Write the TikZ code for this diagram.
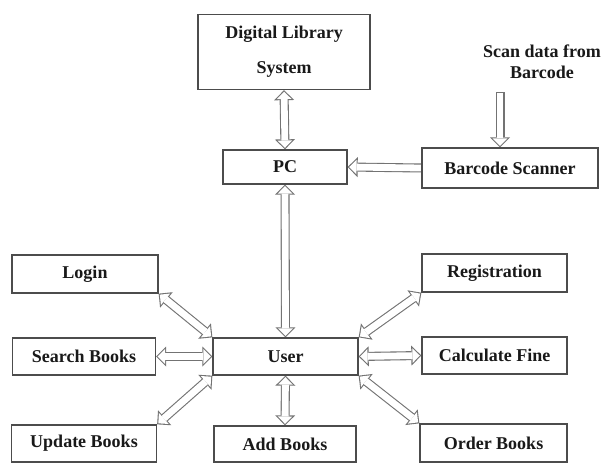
\documentclass[tikz,border=0pt]{standalone}
\usepackage{fontspec}
\setmainfont{Liberation Serif}
\usetikzlibrary{arrows.meta,backgrounds}
\begin{document}
\begin{tikzpicture}[x=1pt,y=-1pt,
  lbl/.style={font=\fontsize{18}{21}\selectfont\bfseries, text=black!90},
  box/.style={lbl, draw=black!70, line width=1.3pt, fill=white, inner sep=0pt},
  outerA/.tip={Triangle[length=10pt,width=20pt,line width=0pt]},
  innerA/.tip={Triangle[length=7.34pt,width=14.7pt,line width=0pt]},
  dbl/.style={draw=black!55, line width=9pt, {outerA}-{outerA},
    postaction={draw=white, line width=6.8pt, shorten <=1.56pt, shorten >=1.56pt, {innerA}-{innerA}}},
  sgl/.style={draw=black!55, line width=9pt, -{outerA},
    postaction={draw=white, line width=6.8pt, shorten >=1.56pt, -{innerA}}},
  sglcap/.style={draw=black!55, line width=9pt, -{outerA},
    postaction={draw=white, line width=6.8pt, shorten <=1.1pt, shorten >=1.56pt, -{innerA}}}
]
\useasboundingbox (0,0) rectangle (602,463);

\node[box, minimum width=172pt, minimum height=75pt, align=center] (dls) at (284,52) {Digital Library\\[14pt]System};
\node[box, minimum width=124pt, minimum height=34pt] (pc) at (285,167) {PC};
\node[box, minimum width=176pt, minimum height=40pt] (bar) at (510,168) {Barcode Scanner};
\node[lbl, align=center] (scan) at (542,62) {Scan data from\\Barcode};
\coordinate (scantail) at (500,92);

\node[box, minimum width=146pt, minimum height=38pt] (login) at (85,274) {Login};
\node[box, minimum width=143pt, minimum height=37pt] (search) at (84,356.5) {Search Books};
\node[box, minimum width=145pt, minimum height=37pt] (update) at (84,443.5) {Update Books};
\node[box, minimum width=145pt, minimum height=37pt] (user) at (285.5,356.5) {User};
\node[box, minimum width=142pt, minimum height=36pt] (add) at (285,444) {Add Books};
\node[box, minimum width=145pt, minimum height=38pt] (reg) at (494.5,273) {Registration};
\node[box, minimum width=145pt, minimum height=37pt] (calc) at (494.5,355.5) {Calculate Fine};
\node[box, minimum width=147pt, minimum height=38pt] (order) at (493.5,443) {Order Books};

\begin{pgfonlayer}{background}
\fill[white] (0,0) rectangle (602,463);
\draw[dbl] (dls.south) -- (pc.north);
\draw[sgl] (bar.west) -- (pc.east);
\draw[sglcap] (scantail) -- (scantail |- bar.north);
\draw[dbl] (pc.south) -- (user.north);
\draw[dbl] (login.south east) -- (user.north west);
\draw[dbl] (search.east) -- (user.west);
\draw[dbl] (update.north east) -- (user.south west);
\draw[dbl] (user.south) -- (add.north);
\draw[dbl] (user.north east) -- (reg.south west);
\draw[dbl] (user.east) -- (calc.west);
\draw[dbl] (user.south east) -- (order.north west);
\end{pgfonlayer}
\end{tikzpicture}
\end{document}
